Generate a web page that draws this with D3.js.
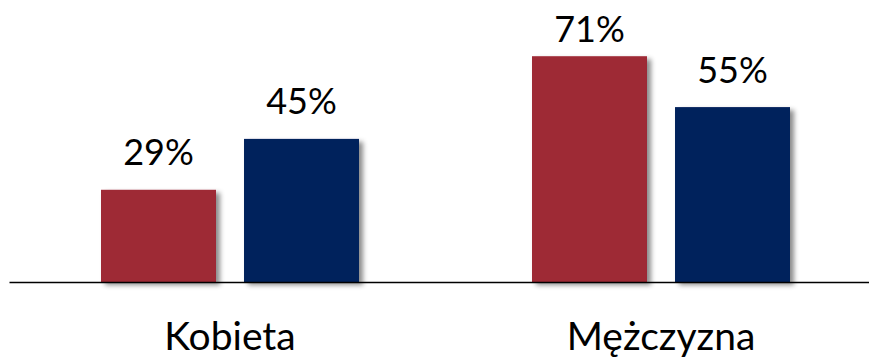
<!DOCTYPE html>
<html><head><meta charset="utf-8">
<script src="https://cdn.jsdelivr.net/npm/d3@7"></script>
<style>
html,body{margin:0;padding:0;background:#fff;}
svg{display:block;}
text{font-family:Lato,"Open Sans",sans-serif;fill:#000;}
</style></head>
<body>
<svg id="chart" width="869" height="358"></svg>
<script>
const categories = ["Kobieta", "Mężczyzna"];
const series = ["A", "B"];
const valuesA = [29, 71];
const valuesB = [45, 55];
const colors = ["#9E2936", "#00205B"];

const svg = d3.select("#chart");
const baseY = 282;

const defs = svg.append("defs");
const f = defs.append("filter").attr("id","sh").attr("x","-20%").attr("y","-20%").attr("width","150%").attr("height","150%");
f.append("feDropShadow").attr("dx",4).attr("dy",3).attr("stdDeviation",2.5)
 .attr("flood-color","#000").attr("flood-opacity",0.45);

const x0 = d3.scaleBand().domain(categories).range([14.5, 876.5]).padding(0);
const x1 = d3.scaleBand().domain(series).range([86.5, 344.5]).paddingInner(0.196).paddingOuter(0);
const y = d3.scaleLinear().domain([0, 100]).range([baseY, baseY - 318]);

const data = [];
categories.forEach((c,i)=>{
  data.push({cat:c, s:"A", v:valuesA[i], color:colors[0]});
  data.push({cat:c, s:"B", v:valuesB[i], color:colors[1]});
});

svg.append("g").selectAll("rect").data(data).join("rect")
  .attr("x", d=>x0(d.cat)+x1(d.s))
  .attr("y", d=>y(d.v))
  .attr("width", x1.bandwidth())
  .attr("height", d=>baseY - y(d.v))
  .attr("fill", d=>d.color)
  .attr("filter","url(#sh)");

const axis = d3.axisBottom(x0).tickSize(0).tickPadding(0);
const ax = svg.append("g").attr("transform",`translate(0,${baseY})`).call(axis);
ax.select(".domain").attr("d", `M9.5,0.5H869`).attr("stroke","#000").attr("stroke-width",1.5);
ax.selectAll(".tick text").attr("y", 68).attr("dy", 0)
  .style("font-size","39px").style("font-family","Lato, 'Open Sans', sans-serif").attr("fill","#000");

svg.append("g").selectAll("text").data(data).join("text")
  .attr("x", d=>x0(d.cat)+x1(d.s)+x1.bandwidth()/2)
  .attr("y", d=>Math.max(y(d.v)-24.5, 42))
  .attr("text-anchor","middle")
  .style("font-size","36px")
  .text(d=>d.v+"%");
</script>
</body></html>
